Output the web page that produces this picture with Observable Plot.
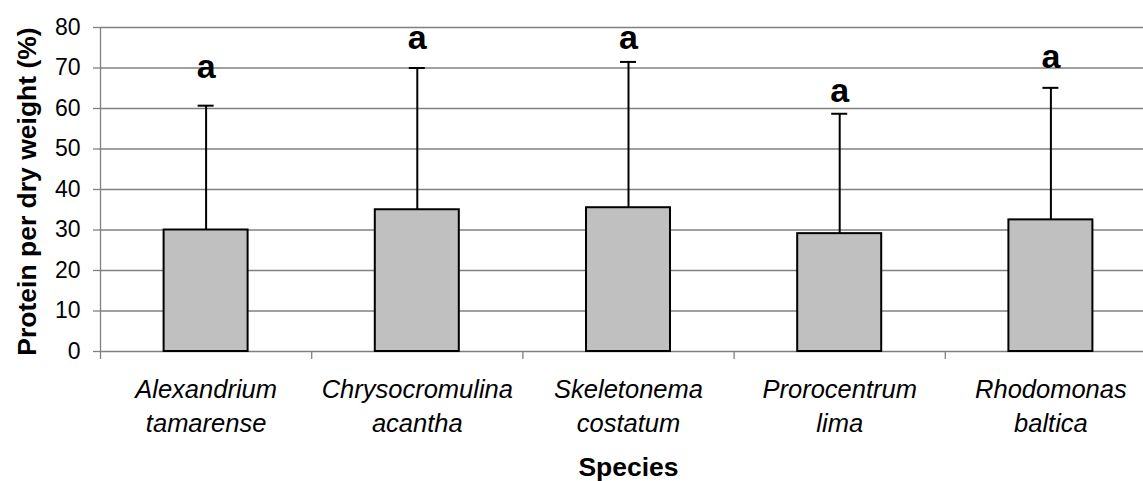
<!DOCTYPE html>
<html>
<head>
<meta charset="utf-8">
<script src="https://cdn.jsdelivr.net/npm/d3@7"></script>
<script src="https://cdn.jsdelivr.net/npm/@observablehq/plot@0.6"></script>
<style>
  html, body { margin: 0; padding: 0; background: #fff; }
  #chart { width: 1143px; height: 481px; overflow: hidden; }
</style>
</head>
<body>
<div id="chart"></div>
<script>
// ---- data ----
const genus   = ["Alexandrium", "Chrysocromulina", "Skeletonema", "Prorocentrum", "Rhodomonas"];
const epithet = ["tamarense", "acantha", "costatum", "lima", "baltica"];
const meanProtein = [30.0, 35.0, 35.5, 29.1, 32.5];
const sdProtein   = [30.7, 35.0, 36.0, 29.6, 32.6];
const groupLetter = ["a", "a", "a", "a", "a"];
const letterY     = [67.6, 74.6, 74.6, 61.5, 70.1];
const yTicks = [0, 10, 20, 30, 40, 50, 60, 70, 80];

// ---- layout ----
const W = 1143, H = 481;
const mL = 100, mR = -13, mT = 27, mB = 130;
const step = (W - mL - mR) / genus.length;
const barW = 84, capW = 16;

const species = genus.map((g, i) => `${g}\n${epithet[i]}`);
const rows = species.map((s, i) => ({
  species: s, mean: meanProtein[i], upper: meanProtein[i] + sdProtein[i],
  letter: groupLetter[i], ly: letterY[i]
}));

const FONT = "'Liberation Sans', Arial, sans-serif";
const GRID = "#808080";

const chart = Plot.plot({
  width: W, height: H,
  marginLeft: mL, marginRight: mR, marginTop: mT, marginBottom: mB,
  style: { fontFamily: FONT, background: "#fff", color: "#000", overflow: "visible" },
  x: { domain: species, padding: 0, round: false, axis: null },
  y: { domain: [0, 80], axis: null },
  marks: [
    // horizontal gridlines
    Plot.ruleY(yTicks, { stroke: GRID, strokeWidth: 1.3 }),
    // y axis line
    Plot.ruleX([species[0]], { y1: 0, y2: 80, dx: -step / 2, stroke: GRID, strokeWidth: 1.3 }),
    // y ticks and labels
    Plot.axisY({ ticks: yTicks, tickSize: 7, tickPadding: 13, stroke: GRID, strokeWidth: 1.3,
                 fontSize: 23, fill: "#000", label: null }),
    // x boundary ticks
    Plot.axisX({ ticks: species, tickSize: 8, text: null, dx: -step / 2, stroke: GRID,
                 strokeWidth: 1.3, label: null }),
    // x category labels
    Plot.axisX({ ticks: species, tickSize: 0, tickPadding: 22, fontSize: 25.5, fontStyle: "italic",
                 lineHeight: 1.34, fill: "#000", label: null }),
    // error bars
    Plot.ruleX(rows, { x: "species", y1: "mean", y2: "upper", stroke: "#000", strokeWidth: 2 }),
    Plot.tickY(rows, { x: "species", y: "upper", stroke: "#000", strokeWidth: 2,
                       insetLeft: (step - capW) / 2, insetRight: (step - capW) / 2 }),
    // bars
    Plot.barY(rows, { x: "species", y: "mean", fill: "#c0c0c0", stroke: "#000", strokeWidth: 2,
                      insetLeft: (step - barW) / 2, insetRight: (step - barW) / 2 }),
    // significance letters
    Plot.text(rows, { x: "species", y: "ly", text: "letter", fontSize: 34, fontWeight: "bold",
                      lineAnchor: "bottom", fill: "#000" }),
    // axis titles
    Plot.text(["Protein per dry weight (%)"], { frameAnchor: "left", textAnchor: "middle",
                      dx: -73, dy: 2, rotate: -90,
                      fontSize: 26.5, fontWeight: "bold", fill: "#000" }),
    Plot.text(["Species"], { frameAnchor: "bottom", textAnchor: "middle", dx: 0, dy: 116,
                      fontSize: 26.5, fontWeight: "bold", fill: "#000", lineAnchor: "middle" })
  ]
});
document.getElementById("chart").appendChild(chart);
</script>
</body>
</html>
